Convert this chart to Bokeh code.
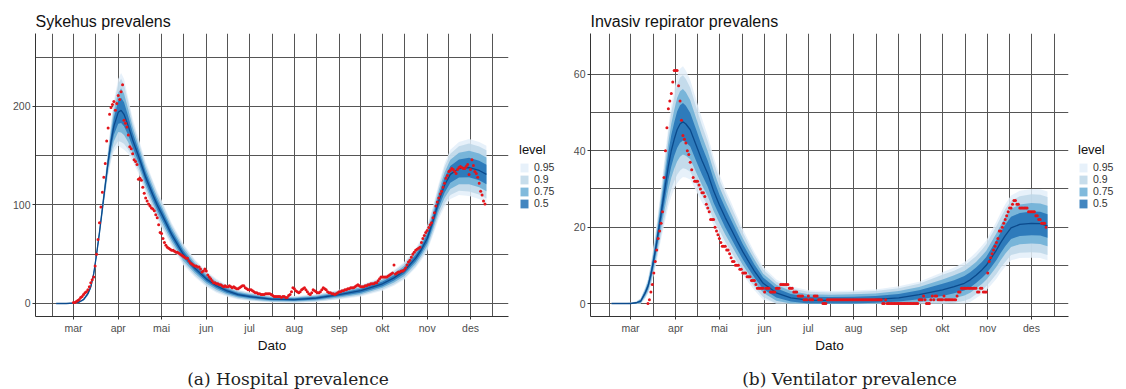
from bokeh.plotting import figure
from bokeh.models import Range1d, FixedTicker, Legend, LegendItem
from bokeh.layouts import row, column
from bokeh.core.properties import value
from bokeh.embed import file_html
from bokeh.resources import INLINE

# ---- axis categories (day of year 2020) ----
MONTH_DAYS = [60, 91, 121, 152, 182, 213, 244, 274, 305, 335]
MONTH_LABELS = ["mar", "apr", "mai", "jun", "jul", "aug", "sep", "okt", "nov", "des"]
PREV_MONTH_START = 31
NEXT_MONTH_START = 366

LEVELS = ["0.95", "0.9", "0.75", "0.5"]
LEVEL_COLORS = ["#E3EEF9", "#BDD7E7", "#6BAED6", "#2171B5"]

# ---- Hospital prevalence (left) ----
hosp_days = [48, 55, 60, 64, 67, 70, 72, 74, 76, 78, 80, 82, 84, 86, 88, 91, 93, 95, 98, 101,
             105, 110, 115, 118, 121, 128, 136, 144, 152, 159, 166, 174, 182, 197, 213,
             228, 244, 259, 274, 282, 289, 297, 301, 305, 309, 313, 317, 321, 327, 334, 341, 346]
hosp_median = [0, 0, 0.5, 1.5, 4, 10, 17, 30, 50, 72, 96, 120, 144, 164, 180, 194, 196, 192, 180, 166,
               150, 128, 110, 100, 91, 70, 50, 36, 25, 18, 13, 9, 7, 4.5, 4,
               5.5, 9, 13, 20, 26, 33, 46, 55, 66, 84, 104, 120, 131, 137, 138, 135, 131]
hosp_w95 = [0.3, 0.3, 0.5, 1, 1.5, 2.5, 3, 4, 5, 6, 8, 10, 14, 20, 26, 34, 38, 36, 28, 22,
            18, 16, 15, 14, 14, 12, 11, 9, 8, 7, 6, 5, 4.5, 3.5, 3.5,
            4, 5, 6, 7, 8, 9, 10, 11, 13, 15, 18, 22, 25, 27, 29, 29, 29]
hosp_w90 = [0.2, 0.2, 0.4, 0.8, 1.2, 2, 2.5, 3.4, 4.2, 5, 6.7, 8.4, 12, 17, 22, 29, 32, 30, 24, 18,
            15, 13, 13, 12, 12, 10, 9, 7.6, 6.7, 5.9, 5, 4.2, 3.8, 2.9, 2.9,
            3.4, 4.2, 5, 5.9, 6.7, 7.6, 8.4, 9.2, 11, 12.6, 15, 18.5, 21, 22.7, 24.4, 24.4, 24.4]
hosp_w75 = [0.2, 0.2, 0.3, 0.6, 0.9, 1.5, 1.8, 2.4, 3, 3.5, 4.7, 5.9, 8.3, 11.8, 15.3, 20, 22.4, 21, 16.5, 13,
            10.6, 9.4, 8.9, 8.3, 8.3, 7.1, 6.5, 5.3, 4.7, 4.1, 3.5, 3, 2.7, 2.1, 2.1,
            2.4, 3, 3.5, 4.1, 4.7, 5.3, 5.9, 6.5, 7.7, 8.9, 10.6, 13, 14.8, 16, 17.1, 17.1, 17.1]
hosp_w50 = [0.1, 0.1, 0.2, 0.3, 0.5, 0.9, 1, 1.4, 1.7, 2, 2.7, 3.4, 4.8, 6.8, 8.8, 11.6, 12.9, 12.2, 9.5, 7.5,
            6.1, 5.4, 5.1, 4.8, 4.8, 4.1, 3.7, 3.1, 2.7, 2.4, 2, 1.7, 1.5, 1.2, 1.2,
            1.4, 1.7, 2, 2.4, 2.7, 3.1, 3.4, 3.7, 4.4, 5.1, 6.1, 7.5, 8.5, 9.2, 9.9, 9.9, 9.9]
hosp_obs_start = 60
hosp_obs = [
    1, 1, 2, 3, 4, 6, 7, 9, 11, 12,
    14, 17, 21, 24, 27, 38, 50, 65, 82, 98,
    113, 128, 142, 165, 178, 192, 199, 202, 205, 196,
    203, 211, 207, 215, 222, 186, 183, 179, 171, 159,
    157, 152, 146, 144, 141, 126, 127, 125, 118, 112,
    107, 104, 101, 99, 97, 96, 94, 90, 87, 80,
    72, 71, 66, 62, 59, 57, 56, 55, 54, 54,
    53, 52, 52, 51, 50, 49, 48, 47, 46, 46,
    43, 41, 40, 39, 38, 38, 37, 37, 35, 32,
    33, 35, 33, 29, 27, 25, 23, 21, 21, 20,
    20, 19, 19, 18, 17, 18, 17, 17, 18, 17,
    16, 17, 16, 15, 15, 16, 17, 18, 18, 16,
    15, 14, 14, 14, 13, 12, 11, 11, 10, 10,
    9, 9, 9, 10, 10, 10, 10, 9, 8, 7,
    7, 7, 7, 7, 6, 7, 7, 6, 6, 8,
    9, 12, 16, 15, 13, 12, 11, 12, 14, 15,
    16, 14, 12, 10, 9, 11, 14, 13, 12, 11,
    11, 12, 14, 16, 15, 14, 12, 11, 11, 10,
    10, 9, 10, 11, 12, 12, 13, 13, 14, 14,
    15, 15, 16, 16, 16, 17, 18, 19, 18, 17,
    17, 17, 18, 18, 19, 19, 20, 20, 20, 21,
    21, 23, 25, 27, 27, 27, 27, 27, 28, 29,
    30, 31, 39, 30, 31, 32, 32, 33, 33, 34,
    36, 39, 42, 44, 47, 50, 52, 54, 55, 56,
    57, 62, 66, 69, 72, 74, 77, 80, 82, 87,
    92, 99, 103, 107, 111, 114, 118, 122, 127, 130,
    134, 135, 137, 136, 134, 132, 136, 138, 139, 138,
    137, 137, 139, 141, 131, 136, 146, 140, 134, 132,
    128, 122, 114, 110, 104, 101]

# ---- Ventilator prevalence (right) ----
vent_days = [47, 55, 60, 64, 67, 70, 72, 74, 76, 78, 80, 82, 84, 86, 88, 90, 92, 94, 96, 98,
             101, 105, 109, 113, 117, 121, 125, 129, 133, 137, 141, 145, 151, 160, 170,
             182, 197, 213, 228, 244, 258, 274, 282, 289, 293, 297, 301, 304, 307, 311,
             314, 317, 321, 327, 335, 341, 346]
vent_median = [0, 0, 0, 0.2, 0.6, 2.7, 4.5, 7.5, 11.5, 16, 21, 26, 31, 36, 40, 43, 45.5, 47, 47.6, 47,
               45.5, 41.5, 37.5, 34, 29.5, 25.8, 22.5, 19.5, 16.5, 13.6, 11, 8.5, 5.3, 2.8, 1.5,
               0.9, 0.8, 0.9, 1.1, 1.5, 2.3, 3.6, 4.4, 5.3, 6.2, 7.4, 8.8, 10, 11.7, 14,
               16, 17.8, 19.8, 20.7, 21, 20.9, 20.3]
vent_w95 = [0.1, 0.1, 0.2, 0.4, 0.8, 1.5, 2, 3, 4, 5, 6, 7.5, 9, 10.5, 12, 13, 14, 14.5, 14.5, 14,
            13, 12, 11, 10, 9, 8, 7.5, 7, 6.5, 6, 5.5, 5, 4.3, 3.5, 3,
            2.6, 2.5, 2.5, 2.6, 3, 3.4, 4.6, 5, 5.5, 5.8, 6, 6.3, 6.5, 7, 7.5,
            7.8, 8.2, 8.5, 8.8, 9, 9, 9]
vent_w90 = [0.1, 0.1, 0.2, 0.3, 0.7, 1.3, 1.7, 2.5, 3.4, 4.2, 5, 6.3, 7.6, 8.8, 10, 11, 11.8, 12.2, 12.2, 11.8,
            11, 10, 9.2, 8.4, 7.6, 6.7, 6.3, 5.9, 5.5, 5, 4.6, 4.2, 3.6, 2.9, 2.5,
            2.2, 2.1, 2.1, 2.2, 2.5, 2.9, 3.9, 4.2, 4.6, 4.9, 5, 5.3, 5.5, 5.9, 6.3,
            6.6, 6.9, 7.1, 7.4, 7.6, 7.6, 7.6]
vent_w75 = [0.1, 0.1, 0.1, 0.2, 0.5, 0.9, 1.2, 1.8, 2.4, 3, 3.5, 4.4, 5.3, 6.2, 7.1, 7.7, 8.3, 8.6, 8.6, 8.3,
            7.7, 7.1, 6.5, 5.9, 5.3, 4.7, 4.4, 4.1, 3.8, 3.5, 3.2, 3, 2.5, 2.1, 1.8,
            1.5, 1.5, 1.5, 1.5, 1.8, 2, 2.7, 3, 3.2, 3.4, 3.5, 3.7, 3.8, 4.1, 4.4,
            4.6, 4.8, 5, 5.2, 5.3, 5.3, 5.3]
vent_w50 = [0, 0, 0.1, 0.1, 0.3, 0.5, 0.7, 1, 1.4, 1.7, 2, 2.6, 3.1, 3.6, 4.1, 4.4, 4.8, 4.9, 4.9, 4.8,
            4.4, 4.1, 3.7, 3.4, 3.1, 2.7, 2.6, 2.4, 2.2, 2, 1.9, 1.7, 1.5, 1.2, 1,
            0.9, 0.9, 0.9, 0.9, 1, 1.2, 1.6, 1.7, 1.9, 2, 2, 2.1, 2.2, 2.4, 2.6,
            2.7, 2.8, 2.9, 3, 3.1, 3.1, 3.1]
vent_obs_start = 72
vent_obs = [
    0, 1, 3, 5, 8, 11, 14, 17,
    19, 21, 24, 33, 40, 46, 51, 53, 55, 58,
    61, 61, 61, 57, 53, 48, 44, 43, 42, 40,
    39, 37, 35, 33, 32, 32, 32, 31, 30, 29,
    29, 28, 26, 25, 24, 22, 22, 22, 20, 19,
    18, 17, 16, 15, 15, 15, 14, 14, 13, 12,
    11, 11, 10, 10, 10, 9, 9, 8, 8, 8,
    7, 7, 7, 6, 6, 6, 5, 4, 4, 4,
    4, 4, 3, 4, 4, 4, 3, 3, 3, 3,
    4, 4, 4, 5, 5, 5, 5, 5, 5, 4,
    4, 4, 3, 3, 3, 2, 2, 2, 2, 1,
    1, 1, 2, 1, 1, 1, 2, 2, 2, 1,
    1, 1, 0, 0, 0, 1, 1, 1, 1, 1,
    1, 1, 1, 1, 1, 1, 1, 1, 1, 1,
    1, 1, 1, 1, 1, 1, 1, 1, 1, 1,
    1, 1, 1, 1, 1, 1, 1, 1, 1, 1,
    1, 1, 1, 0, 0, 1, 0, 0, 0, 0,
    0, 0, 0, 0, 0, 0, 0, 0, 0, 0,
    0, 0, 0, 0, 0, 0, 0, 0, 1, 1,
    1, 2, 1, 0, 0, 0, 1, 2, 1, 2,
    2, 1, 1, 1, 1, 2, 1, 1, 1, 1,
    1, 1, 1, 1, 2, 3, 3, 4, 4, 4,
    4, 4, 4, 4, 4, 4, 4, 4, 3, 3,
    4, 4, 3, 3, 3, 8, 11, 12, 13, 14,
    15, 16, 17, 19, 19, 20, 21, 22, 23, 24,
    25, 25, 26, 27, 27, 26, 26, 25, 25, 25,
    25, 25, 25, 24, 24, 24, 24, 24, 23, 23,
    22, 22, 21, 21, 21, 20]

SANS = "Liberation Sans"
GRID_COLOR = "#555555"
FIG_H = 358
FRAME_H = 283
TOP_B = 33
BOTTOM_B = FIG_H - FRAME_H - TOP_B
CAP_H = 31


def panel(title, days, median, widths, obs_start, obs,
          y_lo, y_hi, y_major, y_minor, x_lo, x_hi, frame_w, left_border):
    p = figure(width=left_border + frame_w + 5, height=FIG_H,
               output_backend="svg", toolbar_location=None,
               x_range=Range1d(x_lo, x_hi), y_range=Range1d(y_lo, y_hi),
               min_border_left=left_border, min_border_right=5,
               min_border_top=TOP_B, min_border_bottom=BOTTOM_B)
    p.outline_line_color = None
    p.background_fill_color = "white"
    p.border_fill_color = "white"

    p.title.text = title
    p.title.text_font = SANS
    p.title.text_font_size = "16px"
    p.title.text_font_style = "normal"
    p.title.text_color = "#111111"
    p.title.standoff = 7

    # grid
    bounds = [PREV_MONTH_START] + MONTH_DAYS + [NEXT_MONTH_START]
    x_minor = [(a + b) / 2 for a, b in zip(bounds[:-1], bounds[1:])]
    p.xgrid.ticker = FixedTicker(ticks=MONTH_DAYS, minor_ticks=x_minor)
    p.ygrid.ticker = FixedTicker(ticks=y_major, minor_ticks=y_minor)
    for g in (p.xgrid[0], p.ygrid[0]):
        g.grid_line_color = GRID_COLOR
        g.grid_line_width = 1
        g.minor_grid_line_color = GRID_COLOR
        g.minor_grid_line_width = 1

    # axes
    p.xaxis.ticker = FixedTicker(ticks=MONTH_DAYS)
    p.xaxis.major_label_overrides = {d: lab for d, lab in zip(MONTH_DAYS, MONTH_LABELS)}
    p.yaxis.ticker = FixedTicker(ticks=y_major)
    p.xaxis.axis_label = "Dato"
    for ax in (p.xaxis[0], p.yaxis[0]):
        ax.axis_line_color = "#333333"
        ax.major_tick_line_color = "#333333"
        ax.major_tick_out = 3
        ax.major_tick_in = 0
        ax.minor_tick_line_color = None
        ax.major_label_text_font = SANS
        ax.major_label_text_font_size = "10.5px"
        ax.major_label_text_color = "#4d4d4d"
        ax.major_label_standoff = 2
    p.xaxis.axis_label_text_font = SANS
    p.xaxis.axis_label_text_font_size = "13.5px"
    p.xaxis.axis_label_text_font_style = "normal"
    p.xaxis.axis_label_text_color = "#111111"
    p.xaxis.axis_label_standoff = 1

    # bands
    for w, col in zip(widths, LEVEL_COLORS):
        lo = [max(0.0, m - d) for m, d in zip(median, w)]
        hi = [m + d for m, d in zip(median, w)]
        p.varea(x=days, y1=lo, y2=hi, fill_color=col, fill_alpha=0.85)
    p.line(days, median, line_color="#0b4a8c", line_width=1.3)

    xs = list(range(obs_start, obs_start + len(obs)))
    p.scatter(xs, obs, size=3, marker="circle", fill_color="#e3151b",
              line_color=None)
    return p


def legend_fig(width, box_x, box_y):
    q = figure(width=width, height=FIG_H, output_backend="svg",
               toolbar_location=None, x_axis_location=None, y_axis_location=None,
               x_range=Range1d(0, 1), y_range=Range1d(0, 1),
               min_border_left=0, min_border_right=0,
               min_border_top=TOP_B, min_border_bottom=BOTTOM_B)
    q.outline_line_color = None
    q.grid.visible = False
    q.background_fill_color = "white"
    q.border_fill_color = "white"
    items = []
    for lab, col in zip(LEVELS, LEVEL_COLORS):
        # swatch renderer kept outside the visible range; only its legend key shows
        r = q.varea(x=[5, 6], y1=[5, 5], y2=[6, 6], fill_color=col, fill_alpha=0.85)
        items.append(LegendItem(label=lab, renderers=[r]))
    legend = Legend(items=items, title="level", location=(box_x, box_y))
    legend.border_line_color = None
    legend.background_fill_alpha = 0
    legend.glyph_width = 10
    legend.glyph_height = 11
    legend.label_height = 11
    legend.spacing = 0
    legend.padding = 2
    legend.margin = 0
    legend.label_standoff = 5
    legend.label_text_font = SANS
    legend.label_text_font_size = "10.5px"
    legend.label_text_color = "#333333"
    legend.title_text_font = SANS
    legend.title_text_font_size = "13px"
    legend.title_text_font_style = "normal"
    legend.title_text_color = "#111111"
    legend.title_standoff = 4
    q.add_layout(legend, "center")
    return q


def caption_fig(width, cx, text):
    c = figure(width=width, height=CAP_H, output_backend="svg",
               toolbar_location=None, x_axis_location=None, y_axis_location=None,
               x_range=Range1d(0, width), y_range=Range1d(0, CAP_H),
               min_border_left=0, min_border_right=0,
               min_border_top=0, min_border_bottom=0)
    c.outline_line_color = None
    c.grid.visible = False
    c.background_fill_color = "white"
    c.border_fill_color = "white"
    c.text(x=[cx], y=[CAP_H - 20], text=[text], text_align="center",
           text_baseline="middle", text_font=value("DejaVu Serif"),
           text_font_size="17px", text_color="#222222")
    return c


p1 = panel("Sykehus prevalens",
           hosp_days, hosp_median, [hosp_w95, hosp_w90, hosp_w75, hosp_w50],
           hosp_obs_start, hosp_obs,
           -13.2, 274, [0, 100, 200], [50, 150, 250], 33.7, 361.3, 473, 35)
l1 = legend_fig(50, 6, 107)
p2 = panel("Invasiv repirator prevalens",
           vent_days, vent_median, [vent_w95, vent_w90, vent_w75, vent_w50],
           vent_obs_start, vent_obs,
           -3.4, 70.7, [0, 20, 40, 60], [10, 30, 50], 32.6, 360.4, 478, 27)
l2 = legend_fig(53, 5, 107)

c1 = caption_fig(563, 287.5, "(a) Hospital prevalence")
c2 = caption_fig(563, 286, "(b) Ventilator prevalence")

layout = column(row(p1, l1, p2, l2, spacing=0), row(c1, c2, spacing=0), spacing=0)
open("out.html", "w").write(file_html(layout, INLINE))
